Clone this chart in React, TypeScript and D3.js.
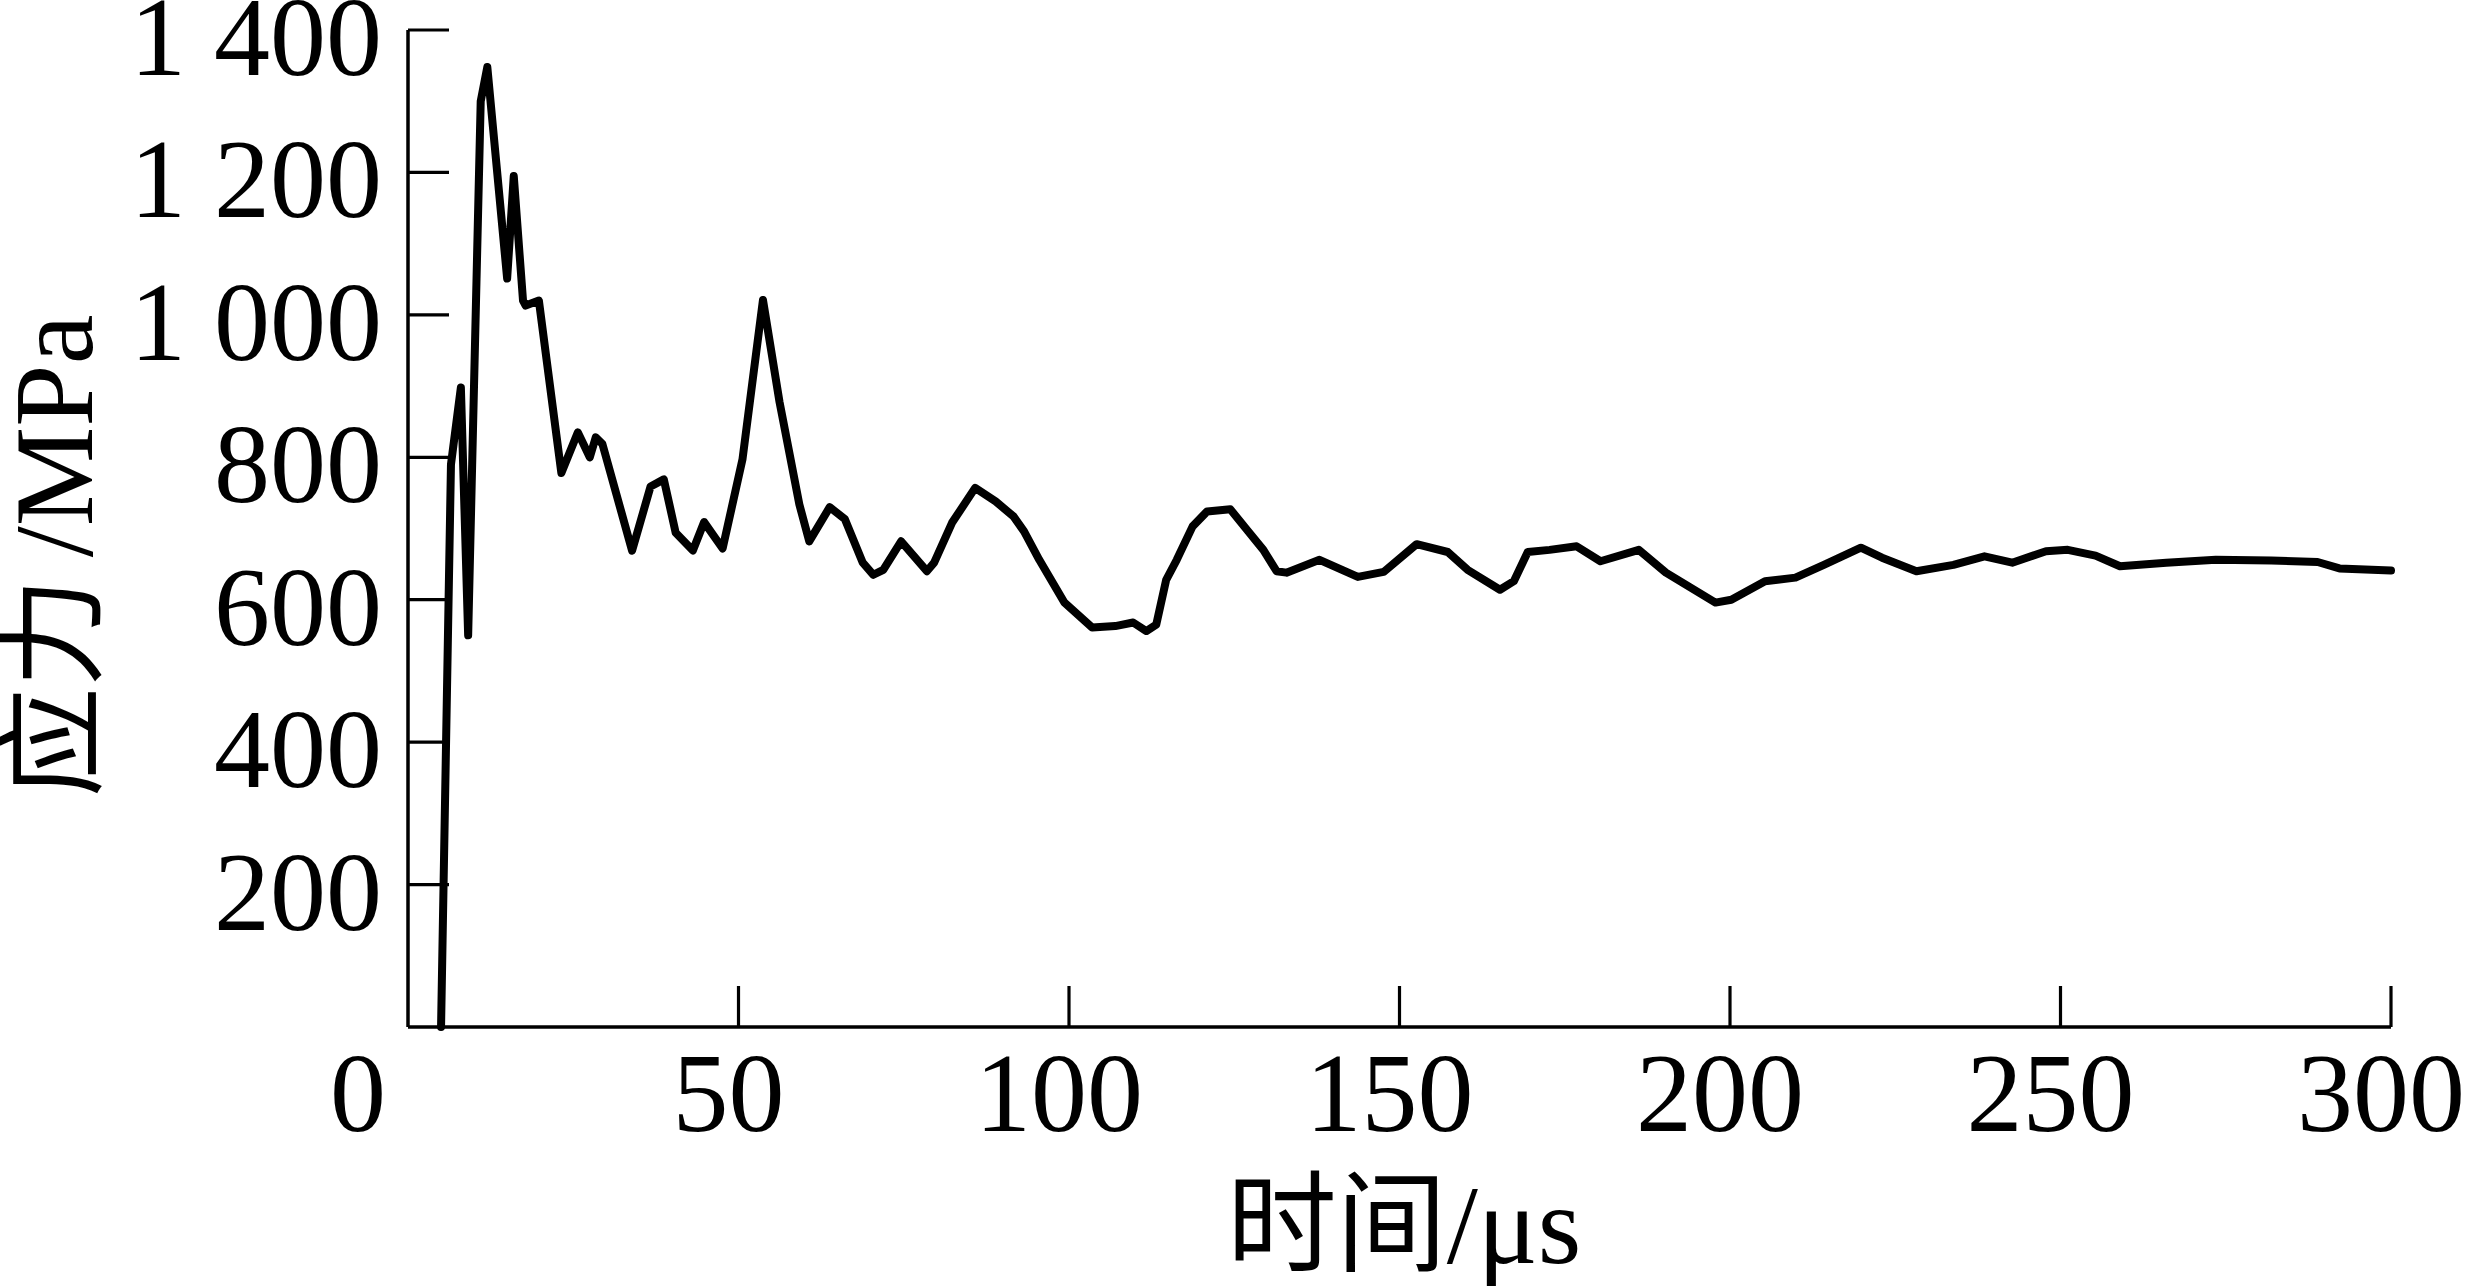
import React from "react";
import * as d3 from "d3";

const timeUs: number[] = [5, 6.5, 8.0, 9.1, 11.0, 12.0, 15.0, 16.0, 17.4, 17.8, 19.8, 23.2, 25.7, 27.5, 28.4, 29.4, 33.9, 36.7, 38.7, 40.5, 43.1, 44.8, 47.6, 50.6, 53.7, 56.2, 59.2, 60.7, 63.8, 66.1, 68.8, 70.4, 71.9, 74.6, 78.5, 79.6, 82.3, 85.8, 88.9, 91.6, 93.2, 95.5, 99.3, 103.5, 107.0, 109.7, 111.7, 113.2, 114.7, 116.3, 118.7, 120.9, 124.4, 127.1, 129.4, 131.4, 132.9, 137.9, 143.7, 147.6, 152.6, 157.3, 160.3, 165.2, 167.3, 169.4, 172.7, 176.8, 180.4, 186.2, 190.3, 197.8, 200.2, 205.3, 209.9, 214.2, 219.8, 223.0, 228.2, 233.8, 238.5, 242.7, 247.8, 251.1, 255.3, 259.0, 266.0, 273.5, 281.9, 288.9, 292.2, 300];

const stressMPa: number[] = [0, 790, 898, 550, 1300, 1348, 1051, 1195, 1020, 1013, 1020, 778, 835, 800, 828, 819, 669, 759, 769, 694, 669, 709, 672, 797, 1021, 878, 734, 682, 730, 713, 652, 635, 642, 682, 640, 652, 708, 757, 738, 717, 696, 656, 596, 561, 563, 568, 556, 565, 628, 656, 703, 724, 727, 696, 670, 640, 638, 656, 632, 639, 678, 667, 642, 614, 626, 667, 670, 675, 654, 670, 638, 596, 600, 626, 631, 649, 673, 659, 640, 649, 661, 652, 668, 670, 662, 647, 652, 656, 655, 653, 644, 641];

const xTicks: number[] = [50, 100, 150, 200, 250, 300];
const yTicks: number[] = [200, 400, 600, 800, 1000, 1200, 1400];
const yTickLabels: string[] = ["200", "400", "600", "800", "1 000", "1 200", "1 400"];

const W = 2467;
const H = 1286;
const LATIN = "'Liberation Serif', 'Times New Roman', serif";
const CJK = "'Noto Sans CJK SC', sans-serif";

export default function App() {
  const x = d3.scaleLinear().domain([0, 300]).range([408, 2391]);
  const y = d3.scaleLinear().domain([0, 1400]).range([1027, 30]);
  const data = timeUs.map((t, i) => [t, stressMPa[i]] as [number, number]);
  const line = d3
    .line<[number, number]>()
    .x((d) => x(d[0]))
    .y((d) => y(d[1]))
    .curve(d3.curveLinear);
  const tickLen = 41;
  const fs = 112;

  return (
    <svg
      width={W}
      height={H}
      viewBox={`0 0 ${W} ${H}`}
      style={{ position: "absolute", left: 0, top: 0, background: "#fff" }}
    >
      <rect x={0} y={0} width={W} height={H} fill="#fff" />
      <line x1={x(0)} y1={y(1400)} x2={x(0)} y2={y(0)} stroke="#000" strokeWidth={3.5} />
      <line x1={x(0)} y1={y(0)} x2={x(300)} y2={y(0)} stroke="#000" strokeWidth={3.5} />
      {yTicks.map((v) => (
        <line key={"yt" + v} x1={x(0)} x2={x(0) + tickLen} y1={y(v)} y2={y(v)} stroke="#000" strokeWidth={3.2} />
      ))}
      {xTicks.map((v) => (
        <line key={"xt" + v} x1={x(v)} x2={x(v)} y1={y(0)} y2={y(0) - tickLen} stroke="#000" strokeWidth={3.2} />
      ))}
      {yTicks.map((v, i) => (
        <text
          key={"yl" + v}
          x={x(0) - 26}
          y={y(v) + 45}
          textAnchor="end"
          fontFamily={LATIN}
          fontSize={fs}
          fill="#000"
        >
          {yTickLabels[i]}
        </text>
      ))}
      {xTicks.map((v) => (
        <text
          key={"xl" + v}
          x={x(v) - 10}
          y={1131}
          textAnchor="middle"
          fontFamily={LATIN}
          fontSize={fs}
          fill="#000"
        >
          {String(v)}
        </text>
      ))}
      <text x={x(0) - 50} y={1131} textAnchor="middle" fontFamily={LATIN} fontSize={fs} fill="#000">
        0
      </text>
      <text x={1404} y={1263} textAnchor="middle" fill="#000" fontSize={fs}>
        <tspan fontFamily={CJK} fontSize={110}>时间</tspan>
        <tspan fontFamily={LATIN}>/μs</tspan>
      </text>
      <text
        transform={`translate(92,556) rotate(-90)`}
        textAnchor="middle"
        fill="#000"
        fontSize={fs}
      >
        <tspan fontFamily={CJK} fontSize={110}>应力</tspan>
        <tspan fontFamily={LATIN} dx={20}>/MPa</tspan>
      </text>
      <path
        d={line(data) || ""}
        fill="none"
        stroke="#000"
        strokeWidth={8}
        strokeLinejoin="round"
        strokeLinecap="round"
      />
    </svg>
  );
}
